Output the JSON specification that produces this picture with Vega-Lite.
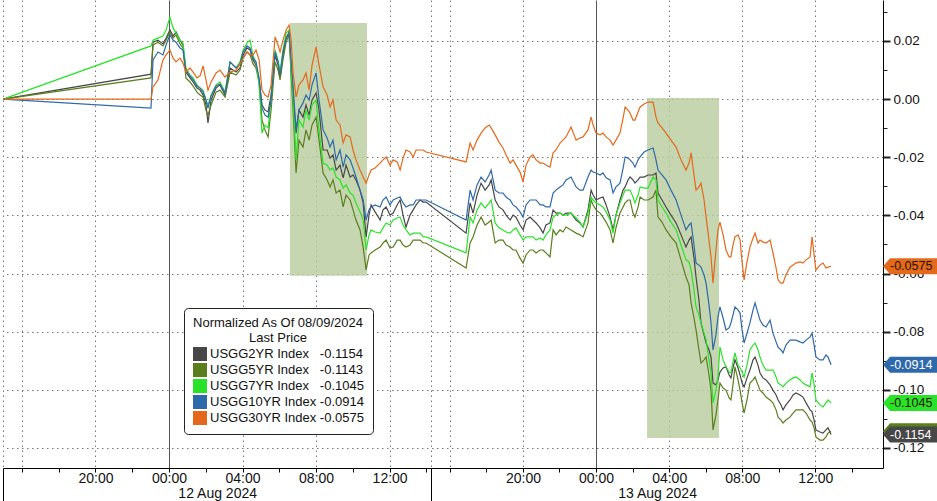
{
  "$schema": "https://vega.github.io/schema/vega-lite/v6.json",
  "description": "Normalized US Treasury yield indices (2Y, 5Y, 7Y, 10Y, 30Y), 12-13 Aug 2024, Bloomberg style.",
  "width": 880,
  "height": 468,
  "padding": 0,
  "autosize": {"type": "pad"},
  "background": "white",
  "config": {"view": {"stroke": null}, "font": "Liberation Sans"},
  "datasets": {
    "bands": [
      {"h": 6.58, "h2": 10.77, "v": 0.0262, "v2": -0.0608},
      {"h": 26.79, "h2": 30.73, "v": 0.0004, "v2": -0.1166}
    ],
    "tags": [
      {"s": "30Y", "h": 39.7, "v": -0.0575, "lab": "-0.0575"},
      {"s": "10Y", "h": 39.7, "v": -0.0914, "lab": "-0.0914"},
      {"s": "7Y", "h": 39.7, "v": -0.1045, "lab": "-0.1045"},
      {"s": "5Y", "h": 39.7, "v": -0.1143, "lab": "-0.1143"},
      {"s": "2Y", "h": 39.7, "v": -0.1154, "lab": "-0.1154"}
    ],
    "yields": [
      {"h": -9.03, "2Y": 0, "5Y": 0, "7Y": 0, "10Y": 0, "30Y": 0},
      {"h": -0.98, "2Y": 0.0086, "5Y": 0.0073, "7Y": 0.0183, "10Y": -0.0031, "30Y": 0},
      {"h": -0.87, "2Y": 0.0196, "5Y": 0.0186, "7Y": 0.0203, "10Y": 0.0135, "30Y": 0.0042},
      {"h": -0.60, "2Y": 0.0203, "5Y": 0.0196, "7Y": 0.0210, "10Y": 0.0162, "30Y": 0.0066},
      {"h": -0.33, "2Y": 0.0190, "5Y": 0.0183, "7Y": 0.0217, "10Y": 0.0152, "30Y": 0.0135},
      {"h": -0.16, "2Y": 0.0210, "5Y": 0.0203, "7Y": 0.0238, "10Y": 0.0186, "30Y": 0.0152},
      {"h": 0.05, "2Y": 0.0238, "5Y": 0.0231, "7Y": 0.0282, "10Y": 0.0221, "30Y": 0.0169},
      {"h": 0.22, "2Y": 0.0217, "5Y": 0.0210, "7Y": 0.0245, "10Y": 0.0203, "30Y": 0.0141},
      {"h": 0.38, "2Y": 0.0231, "5Y": 0.0221, "7Y": 0.0227, "10Y": 0.0196, "30Y": 0.0128},
      {"h": 0.60, "2Y": 0.0203, "5Y": 0.0190, "7Y": 0.0203, "10Y": 0.0176, "30Y": 0.0141},
      {"h": 0.76, "2Y": 0.0186, "5Y": 0.0176, "7Y": 0.0193, "10Y": 0.0169, "30Y": 0.0124},
      {"h": 0.92, "2Y": 0.0093, "5Y": 0.0073, "7Y": 0.0107, "10Y": 0.0100, "30Y": 0.0093},
      {"h": 1.14, "2Y": 0.0073, "5Y": 0.0059, "7Y": 0.0083, "10Y": 0.0080, "30Y": 0.0107},
      {"h": 1.31, "2Y": 0.0059, "5Y": 0.0045, "7Y": 0.0073, "10Y": 0.0066, "30Y": 0.0093},
      {"h": 1.52, "2Y": 0.0038, "5Y": 0.0024, "7Y": 0.0049, "10Y": 0.0045, "30Y": 0.0073},
      {"h": 1.69, "2Y": 0.0031, "5Y": 0.0014, "7Y": 0.0038, "10Y": 0.0038, "30Y": 0.0080},
      {"h": 1.85, "2Y": 0.0014, "5Y": 0.0007, "7Y": 0.0031, "10Y": 0.0024, "30Y": 0.0114},
      {"h": 2.01, "2Y": -0.0020, "5Y": -0.0038, "7Y": -0.0003, "10Y": -0.0003, "30Y": 0.0066},
      {"h": 2.12, "2Y": -0.0082, "5Y": -0.0055, "7Y": -0.0020, "10Y": -0.0031, "30Y": 0.0031},
      {"h": 2.29, "2Y": -0.0003, "5Y": -0.0020, "7Y": 0.0014, "10Y": 0.0011, "30Y": 0.0059},
      {"h": 2.56, "2Y": 0.0038, "5Y": 0.0024, "7Y": 0.0049, "10Y": 0.0045, "30Y": 0.0090},
      {"h": 2.77, "2Y": 0.0049, "5Y": 0.0031, "7Y": 0.0059, "10Y": 0.0052, "30Y": 0.0100},
      {"h": 3.05, "2Y": 0.0014, "5Y": 0.0007, "7Y": 0.0024, "10Y": 0.0021, "30Y": 0.0076},
      {"h": 3.32, "2Y": 0.0107, "5Y": 0.0093, "7Y": 0.0128, "10Y": 0.0128, "30Y": 0.0093},
      {"h": 3.65, "2Y": 0.0093, "5Y": 0.0083, "7Y": 0.0107, "10Y": 0.0107, "30Y": 0.0100},
      {"h": 3.86, "2Y": 0.0107, "5Y": 0.0100, "7Y": 0.0128, "10Y": 0.0121, "30Y": 0.0121},
      {"h": 4.03, "2Y": 0.0152, "5Y": 0.0141, "7Y": 0.0169, "10Y": 0.0162, "30Y": 0.0141},
      {"h": 4.24, "2Y": 0.0176, "5Y": 0.0162, "7Y": 0.0193, "10Y": 0.0183, "30Y": 0.0162},
      {"h": 4.41, "2Y": 0.0169, "5Y": 0.0152, "7Y": 0.0203, "10Y": 0.0176, "30Y": 0.0152},
      {"h": 4.57, "2Y": 0.0135, "5Y": 0.0121, "7Y": 0.0148, "10Y": 0.0141, "30Y": 0.0152},
      {"h": 4.73, "2Y": 0.0117, "5Y": 0.0107, "7Y": 0.0128, "10Y": 0.0128, "30Y": 0.0169},
      {"h": 4.90, "2Y": 0.0066, "5Y": 0.0059, "7Y": 0.0049, "10Y": 0.0073, "30Y": 0.0135},
      {"h": 5.06, "2Y": -0.0020, "5Y": -0.0072, "7Y": -0.0117, "10Y": -0.0031, "30Y": 0.0031},
      {"h": 5.22, "2Y": -0.0038, "5Y": -0.0106, "7Y": -0.0089, "10Y": -0.0055, "30Y": 0.0014},
      {"h": 5.39, "2Y": -0.0044, "5Y": -0.0130, "7Y": -0.0099, "10Y": -0.0062, "30Y": 0.0007},
      {"h": 5.55, "2Y": 0.0014, "5Y": -0.0038, "7Y": -0.0003, "10Y": -0.0003, "30Y": 0.0049},
      {"h": 5.77, "2Y": 0.0152, "5Y": 0.0128, "7Y": 0.0169, "10Y": 0.0162, "30Y": 0.0214},
      {"h": 5.93, "2Y": 0.0117, "5Y": 0.0100, "7Y": 0.0135, "10Y": 0.0128, "30Y": 0.0186},
      {"h": 6.04, "2Y": 0.0073, "5Y": 0.0066, "7Y": 0.0093, "10Y": 0.0083, "30Y": 0.0162},
      {"h": 6.20, "2Y": 0.0152, "5Y": 0.0135, "7Y": 0.0169, "10Y": 0.0162, "30Y": 0.0203},
      {"h": 6.37, "2Y": 0.0210, "5Y": 0.0196, "7Y": 0.0227, "10Y": 0.0210, "30Y": 0.0238},
      {"h": 6.53, "2Y": 0.0227, "5Y": 0.0221, "7Y": 0.0238, "10Y": 0.0231, "30Y": 0.0255},
      {"h": 6.64, "2Y": 0.0117, "5Y": 0.0083, "7Y": 0.0100, "10Y": 0.0135, "30Y": 0.0203},
      {"h": 6.75, "2Y": 0.0014, "5Y": -0.0038, "7Y": -0.0003, "10Y": 0.0042, "30Y": 0.0090},
      {"h": 6.91, "2Y": -0.0117, "5Y": -0.0254, "7Y": -0.0209, "10Y": -0.0106, "30Y": 0.0007},
      {"h": 7.07, "2Y": -0.0038, "5Y": -0.0141, "7Y": -0.0072, "10Y": -0.0038, "30Y": 0.0049},
      {"h": 7.29, "2Y": -0.0062, "5Y": -0.0165, "7Y": -0.0096, "10Y": -0.0013, "30Y": 0.0066},
      {"h": 7.45, "2Y": -0.0020, "5Y": -0.0106, "7Y": -0.0038, "10Y": 0.0014, "30Y": 0.0090},
      {"h": 7.62, "2Y": -0.0055, "5Y": -0.0141, "7Y": -0.0072, "10Y": -0.0003, "30Y": 0.0031},
      {"h": 7.78, "2Y": -0.0003, "5Y": -0.0089, "7Y": -0.0020, "10Y": 0.0049, "30Y": 0.0117},
      {"h": 8.00, "2Y": 0.0021, "5Y": -0.0062, "7Y": -0.0003, "10Y": 0.0090, "30Y": 0.0179},
      {"h": 8.16, "2Y": -0.0038, "5Y": -0.0141, "7Y": -0.0106, "10Y": -0.0003, "30Y": 0.0117},
      {"h": 8.38, "2Y": -0.0175, "5Y": -0.0254, "7Y": -0.0220, "10Y": -0.0106, "30Y": 0.0042},
      {"h": 8.60, "2Y": -0.0175, "5Y": -0.0278, "7Y": -0.0227, "10Y": -0.0134, "30Y": 0.0014},
      {"h": 8.76, "2Y": -0.0203, "5Y": -0.0302, "7Y": -0.0244, "10Y": -0.0165, "30Y": -0.0027},
      {"h": 8.92, "2Y": -0.0192, "5Y": -0.0278, "7Y": -0.0237, "10Y": -0.0141, "30Y": -0.0003},
      {"h": 9.09, "2Y": -0.0244, "5Y": -0.0323, "7Y": -0.0268, "10Y": -0.0209, "30Y": -0.0072},
      {"h": 9.30, "2Y": -0.0227, "5Y": -0.0313, "7Y": -0.0278, "10Y": -0.0175, "30Y": -0.0089},
      {"h": 9.47, "2Y": -0.0271, "5Y": -0.0371, "7Y": -0.0306, "10Y": -0.0234, "30Y": -0.0151},
      {"h": 9.63, "2Y": -0.0227, "5Y": -0.0330, "7Y": -0.0295, "10Y": -0.0192, "30Y": -0.0123},
      {"h": 9.85, "2Y": -0.0268, "5Y": -0.0347, "7Y": -0.0323, "10Y": -0.0209, "30Y": -0.0130},
      {"h": 10.01, "2Y": -0.0261, "5Y": -0.0381, "7Y": -0.0330, "10Y": -0.0237, "30Y": -0.0175},
      {"h": 10.17, "2Y": -0.0278, "5Y": -0.0416, "7Y": -0.0357, "10Y": -0.0268, "30Y": -0.0209},
      {"h": 10.39, "2Y": -0.0313, "5Y": -0.0450, "7Y": -0.0388, "10Y": -0.0313, "30Y": -0.0244},
      {"h": 10.56, "2Y": -0.0357, "5Y": -0.0509, "7Y": -0.0416, "10Y": -0.0347, "30Y": -0.0268},
      {"h": 10.72, "2Y": -0.0474, "5Y": -0.0588, "7Y": -0.0519, "10Y": -0.0416, "30Y": -0.0289},
      {"h": 10.88, "2Y": -0.0399, "5Y": -0.0536, "7Y": -0.0467, "10Y": -0.0381, "30Y": -0.0261},
      {"h": 10.99, "2Y": -0.0364, "5Y": -0.0529, "7Y": -0.0450, "10Y": -0.0371, "30Y": -0.0244},
      {"h": 11.21, "2Y": -0.0388, "5Y": -0.0519, "7Y": -0.0457, "10Y": -0.0364, "30Y": -0.0237},
      {"h": 11.48, "2Y": -0.0416, "5Y": -0.0509, "7Y": -0.0461, "10Y": -0.0371, "30Y": -0.0220},
      {"h": 11.64, "2Y": -0.0381, "5Y": -0.0495, "7Y": -0.0443, "10Y": -0.0347, "30Y": -0.0209},
      {"h": 11.81, "2Y": -0.0371, "5Y": -0.0485, "7Y": -0.0426, "10Y": -0.0337, "30Y": -0.0199},
      {"h": 12.02, "2Y": -0.0399, "5Y": -0.0512, "7Y": -0.0433, "10Y": -0.0364, "30Y": -0.0227},
      {"h": 12.19, "2Y": -0.0392, "5Y": -0.0509, "7Y": -0.0416, "10Y": -0.0347, "30Y": -0.0209},
      {"h": 12.41, "2Y": -0.0364, "5Y": -0.0485, "7Y": -0.0409, "10Y": -0.0340, "30Y": -0.0216},
      {"h": 12.57, "2Y": -0.0347, "5Y": -0.0485, "7Y": -0.0406, "10Y": -0.0337, "30Y": -0.0244},
      {"h": 12.73, "2Y": -0.0399, "5Y": -0.0502, "7Y": -0.0433, "10Y": -0.0357, "30Y": -0.0203},
      {"h": 12.89, "2Y": -0.0440, "5Y": -0.0509, "7Y": -0.0450, "10Y": -0.0371, "30Y": -0.0175},
      {"h": 13.11, "2Y": -0.0399, "5Y": -0.0502, "7Y": -0.0467, "10Y": -0.0364, "30Y": -0.0182},
      {"h": 13.28, "2Y": -0.0381, "5Y": -0.0485, "7Y": -0.0461, "10Y": -0.0364, "30Y": -0.0199},
      {"h": 13.44, "2Y": -0.0364, "5Y": -0.0485, "7Y": -0.0461, "10Y": -0.0347, "30Y": -0.0175},
      {"h": 13.66, "2Y": -0.0347, "5Y": -0.0485, "7Y": -0.0461, "10Y": -0.0347, "30Y": -0.0175},
      {"h": 13.82, "2Y": -0.0354, "5Y": -0.0495, "7Y": -0.0474, "10Y": -0.0347, "30Y": -0.0175},
      {"h": 13.98, "2Y": -0.0354, "5Y": -0.0495, "7Y": -0.0474, "10Y": -0.0347, "30Y": -0.0182},
      {"h": 16.89, "2Y": -0.0461, "5Y": -0.0581, "7Y": -0.0529, "10Y": -0.0416, "30Y": -0.0216},
      {"h": 17.11, "2Y": -0.0357, "5Y": -0.0495, "7Y": -0.0406, "10Y": -0.0313, "30Y": -0.0151},
      {"h": 17.27, "2Y": -0.0392, "5Y": -0.0474, "7Y": -0.0426, "10Y": -0.0347, "30Y": -0.0175},
      {"h": 17.49, "2Y": -0.0330, "5Y": -0.0433, "7Y": -0.0381, "10Y": -0.0295, "30Y": -0.0141},
      {"h": 17.71, "2Y": -0.0289, "5Y": -0.0406, "7Y": -0.0357, "10Y": -0.0268, "30Y": -0.0117},
      {"h": 17.93, "2Y": -0.0313, "5Y": -0.0433, "7Y": -0.0375, "10Y": -0.0285, "30Y": -0.0099},
      {"h": 18.15, "2Y": -0.0295, "5Y": -0.0423, "7Y": -0.0357, "10Y": -0.0261, "30Y": -0.0089},
      {"h": 18.26, "2Y": -0.0278, "5Y": -0.0416, "7Y": -0.0347, "10Y": -0.0244, "30Y": -0.0099},
      {"h": 18.48, "2Y": -0.0347, "5Y": -0.0495, "7Y": -0.0426, "10Y": -0.0313, "30Y": -0.0123},
      {"h": 18.69, "2Y": -0.0371, "5Y": -0.0485, "7Y": -0.0443, "10Y": -0.0323, "30Y": -0.0148},
      {"h": 18.91, "2Y": -0.0381, "5Y": -0.0485, "7Y": -0.0450, "10Y": -0.0323, "30Y": -0.0168},
      {"h": 19.08, "2Y": -0.0399, "5Y": -0.0502, "7Y": -0.0457, "10Y": -0.0337, "30Y": -0.0192},
      {"h": 19.30, "2Y": -0.0416, "5Y": -0.0509, "7Y": -0.0461, "10Y": -0.0347, "30Y": -0.0220},
      {"h": 19.46, "2Y": -0.0399, "5Y": -0.0519, "7Y": -0.0450, "10Y": -0.0364, "30Y": -0.0209},
      {"h": 19.62, "2Y": -0.0406, "5Y": -0.0519, "7Y": -0.0443, "10Y": -0.0371, "30Y": -0.0227},
      {"h": 19.84, "2Y": -0.0433, "5Y": -0.0547, "7Y": -0.0467, "10Y": -0.0388, "30Y": -0.0251},
      {"h": 20.01, "2Y": -0.0450, "5Y": -0.0564, "7Y": -0.0485, "10Y": -0.0406, "30Y": -0.0285},
      {"h": 20.17, "2Y": -0.0416, "5Y": -0.0536, "7Y": -0.0474, "10Y": -0.0364, "30Y": -0.0227},
      {"h": 20.39, "2Y": -0.0406, "5Y": -0.0519, "7Y": -0.0474, "10Y": -0.0347, "30Y": -0.0199},
      {"h": 20.55, "2Y": -0.0416, "5Y": -0.0519, "7Y": -0.0474, "10Y": -0.0347, "30Y": -0.0192},
      {"h": 20.72, "2Y": -0.0426, "5Y": -0.0529, "7Y": -0.0485, "10Y": -0.0347, "30Y": -0.0209},
      {"h": 20.94, "2Y": -0.0443, "5Y": -0.0519, "7Y": -0.0478, "10Y": -0.0364, "30Y": -0.0220},
      {"h": 21.10, "2Y": -0.0461, "5Y": -0.0519, "7Y": -0.0485, "10Y": -0.0364, "30Y": -0.0220},
      {"h": 21.26, "2Y": -0.0433, "5Y": -0.0529, "7Y": -0.0467, "10Y": -0.0371, "30Y": -0.0227},
      {"h": 21.48, "2Y": -0.0426, "5Y": -0.0543, "7Y": -0.0450, "10Y": -0.0371, "30Y": -0.0234},
      {"h": 21.65, "2Y": -0.0381, "5Y": -0.0450, "7Y": -0.0406, "10Y": -0.0323, "30Y": -0.0185},
      {"h": 21.81, "2Y": -0.0392, "5Y": -0.0467, "7Y": -0.0399, "10Y": -0.0313, "30Y": -0.0175},
      {"h": 22.03, "2Y": -0.0392, "5Y": -0.0450, "7Y": -0.0392, "10Y": -0.0302, "30Y": -0.0151},
      {"h": 22.19, "2Y": -0.0399, "5Y": -0.0457, "7Y": -0.0399, "10Y": -0.0295, "30Y": -0.0141},
      {"h": 22.36, "2Y": -0.0392, "5Y": -0.0440, "7Y": -0.0399, "10Y": -0.0278, "30Y": -0.0130},
      {"h": 22.63, "2Y": -0.0392, "5Y": -0.0450, "7Y": -0.0392, "10Y": -0.0268, "30Y": -0.0096},
      {"h": 22.91, "2Y": -0.0416, "5Y": -0.0461, "7Y": -0.0409, "10Y": -0.0302, "30Y": -0.0141},
      {"h": 23.12, "2Y": -0.0426, "5Y": -0.0467, "7Y": -0.0423, "10Y": -0.0313, "30Y": -0.0134},
      {"h": 23.29, "2Y": -0.0440, "5Y": -0.0474, "7Y": -0.0440, "10Y": -0.0313, "30Y": -0.0130},
      {"h": 23.56, "2Y": -0.0381, "5Y": -0.0426, "7Y": -0.0392, "10Y": -0.0268, "30Y": -0.0106},
      {"h": 23.73, "2Y": -0.0313, "5Y": -0.0347, "7Y": -0.0337, "10Y": -0.0244, "30Y": -0.0062},
      {"h": 23.84, "2Y": -0.0330, "5Y": -0.0364, "7Y": -0.0347, "10Y": -0.0251, "30Y": -0.0089},
      {"h": 24.00, "2Y": -0.0347, "5Y": -0.0381, "7Y": -0.0357, "10Y": -0.0254, "30Y": -0.0117},
      {"h": 24.22, "2Y": -0.0340, "5Y": -0.0392, "7Y": -0.0364, "10Y": -0.0261, "30Y": -0.0123},
      {"h": 24.38, "2Y": -0.0337, "5Y": -0.0406, "7Y": -0.0371, "10Y": -0.0254, "30Y": -0.0117},
      {"h": 24.55, "2Y": -0.0364, "5Y": -0.0423, "7Y": -0.0388, "10Y": -0.0271, "30Y": -0.0130},
      {"h": 24.77, "2Y": -0.0406, "5Y": -0.0450, "7Y": -0.0416, "10Y": -0.0278, "30Y": -0.0141},
      {"h": 24.93, "2Y": -0.0450, "5Y": -0.0495, "7Y": -0.0461, "10Y": -0.0323, "30Y": -0.0158},
      {"h": 25.09, "2Y": -0.0399, "5Y": -0.0443, "7Y": -0.0399, "10Y": -0.0302, "30Y": -0.0141},
      {"h": 25.31, "2Y": -0.0347, "5Y": -0.0392, "7Y": -0.0357, "10Y": -0.0289, "30Y": -0.0117},
      {"h": 25.48, "2Y": -0.0313, "5Y": -0.0371, "7Y": -0.0330, "10Y": -0.0237, "30Y": -0.0065},
      {"h": 25.59, "2Y": -0.0302, "5Y": -0.0357, "7Y": -0.0313, "10Y": -0.0199, "30Y": -0.0027},
      {"h": 25.75, "2Y": -0.0278, "5Y": -0.0347, "7Y": -0.0313, "10Y": -0.0203, "30Y": -0.0038},
      {"h": 25.86, "2Y": -0.0268, "5Y": -0.0347, "7Y": -0.0313, "10Y": -0.0209, "30Y": -0.0048},
      {"h": 26.02, "2Y": -0.0278, "5Y": -0.0392, "7Y": -0.0337, "10Y": -0.0220, "30Y": -0.0072},
      {"h": 26.13, "2Y": -0.0289, "5Y": -0.0406, "7Y": -0.0357, "10Y": -0.0234, "30Y": -0.0072},
      {"h": 26.30, "2Y": -0.0278, "5Y": -0.0371, "7Y": -0.0330, "10Y": -0.0209, "30Y": -0.0044},
      {"h": 26.41, "2Y": -0.0268, "5Y": -0.0337, "7Y": -0.0302, "10Y": -0.0199, "30Y": -0.0027},
      {"h": 26.63, "2Y": -0.0268, "5Y": -0.0347, "7Y": -0.0306, "10Y": -0.0182, "30Y": -0.0017},
      {"h": 26.84, "2Y": -0.0261, "5Y": -0.0347, "7Y": -0.0306, "10Y": -0.0175, "30Y": -0.0010},
      {"h": 27.12, "2Y": -0.0261, "5Y": -0.0337, "7Y": -0.0268, "10Y": -0.0168, "30Y": -0.0010},
      {"h": 27.28, "2Y": -0.0254, "5Y": -0.0313, "7Y": -0.0278, "10Y": -0.0209, "30Y": -0.0062},
      {"h": 27.39, "2Y": -0.0323, "5Y": -0.0406, "7Y": -0.0347, "10Y": -0.0244, "30Y": -0.0082},
      {"h": 27.61, "2Y": -0.0347, "5Y": -0.0423, "7Y": -0.0371, "10Y": -0.0261, "30Y": -0.0099},
      {"h": 27.83, "2Y": -0.0371, "5Y": -0.0450, "7Y": -0.0392, "10Y": -0.0278, "30Y": -0.0117},
      {"h": 28.10, "2Y": -0.0399, "5Y": -0.0474, "7Y": -0.0423, "10Y": -0.0313, "30Y": -0.0141},
      {"h": 28.38, "2Y": -0.0426, "5Y": -0.0495, "7Y": -0.0450, "10Y": -0.0347, "30Y": -0.0165},
      {"h": 28.65, "2Y": -0.0467, "5Y": -0.0553, "7Y": -0.0502, "10Y": -0.0399, "30Y": -0.0209},
      {"h": 28.92, "2Y": -0.0509, "5Y": -0.0612, "7Y": -0.0553, "10Y": -0.0450, "30Y": -0.0244},
      {"h": 29.09, "2Y": -0.0485, "5Y": -0.0639, "7Y": -0.0560, "10Y": -0.0433, "30Y": -0.0220},
      {"h": 29.20, "2Y": -0.0474, "5Y": -0.0701, "7Y": -0.0588, "10Y": -0.0426, "30Y": -0.0185},
      {"h": 29.36, "2Y": -0.0547, "5Y": -0.0753, "7Y": -0.0657, "10Y": -0.0502, "30Y": -0.0261},
      {"h": 29.47, "2Y": -0.0612, "5Y": -0.0794, "7Y": -0.0715, "10Y": -0.0564, "30Y": -0.0313},
      {"h": 29.63, "2Y": -0.0691, "5Y": -0.0863, "7Y": -0.0743, "10Y": -0.0571, "30Y": -0.0302},
      {"h": 29.74, "2Y": -0.0770, "5Y": -0.0908, "7Y": -0.0770, "10Y": -0.0578, "30Y": -0.0289},
      {"h": 29.91, "2Y": -0.0811, "5Y": -0.0897, "7Y": -0.0805, "10Y": -0.0605, "30Y": -0.0347},
      {"h": 30.02, "2Y": -0.0839, "5Y": -0.0887, "7Y": -0.0829, "10Y": -0.0633, "30Y": -0.0406},
      {"h": 30.18, "2Y": -0.0863, "5Y": -0.0949, "7Y": -0.0897, "10Y": -0.0708, "30Y": -0.0485},
      {"h": 30.29, "2Y": -0.0887, "5Y": -0.1001, "7Y": -0.0942, "10Y": -0.0770, "30Y": -0.0543},
      {"h": 30.40, "2Y": -0.0977, "5Y": -0.1138, "7Y": -0.1045, "10Y": -0.0863, "30Y": -0.0633},
      {"h": 30.56, "2Y": -0.0983, "5Y": -0.1087, "7Y": -0.1001, "10Y": -0.0811, "30Y": -0.0519},
      {"h": 30.67, "2Y": -0.0966, "5Y": -0.1035, "7Y": -0.0956, "10Y": -0.0750, "30Y": -0.0450},
      {"h": 30.78, "2Y": -0.0939, "5Y": -0.0977, "7Y": -0.0853, "10Y": -0.0715, "30Y": -0.0423},
      {"h": 30.95, "2Y": -0.0925, "5Y": -0.0994, "7Y": -0.0897, "10Y": -0.0753, "30Y": -0.0467},
      {"h": 31.11, "2Y": -0.0921, "5Y": -0.1001, "7Y": -0.0921, "10Y": -0.0794, "30Y": -0.0519},
      {"h": 31.28, "2Y": -0.0949, "5Y": -0.1028, "7Y": -0.0939, "10Y": -0.0787, "30Y": -0.0543},
      {"h": 31.38, "2Y": -0.0959, "5Y": -0.1035, "7Y": -0.0942, "10Y": -0.0770, "30Y": -0.0543},
      {"h": 31.49, "2Y": -0.0925, "5Y": -0.0983, "7Y": -0.0904, "10Y": -0.0743, "30Y": -0.0502},
      {"h": 31.60, "2Y": -0.0897, "5Y": -0.0921, "7Y": -0.0873, "10Y": -0.0715, "30Y": -0.0474},
      {"h": 31.77, "2Y": -0.0925, "5Y": -0.0966, "7Y": -0.0915, "10Y": -0.0725, "30Y": -0.0467},
      {"h": 31.88, "2Y": -0.0949, "5Y": -0.1001, "7Y": -0.0925, "10Y": -0.0736, "30Y": -0.0485},
      {"h": 31.99, "2Y": -0.0977, "5Y": -0.1045, "7Y": -0.0939, "10Y": -0.0794, "30Y": -0.0560},
      {"h": 32.10, "2Y": -0.0990, "5Y": -0.1080, "7Y": -0.0956, "10Y": -0.0839, "30Y": -0.0622},
      {"h": 32.26, "2Y": -0.0959, "5Y": -0.1035, "7Y": -0.0915, "10Y": -0.0805, "30Y": -0.0560},
      {"h": 32.42, "2Y": -0.0932, "5Y": -0.0977, "7Y": -0.0863, "10Y": -0.0770, "30Y": -0.0509},
      {"h": 32.59, "2Y": -0.0897, "5Y": -0.0966, "7Y": -0.0846, "10Y": -0.0725, "30Y": -0.0478},
      {"h": 32.70, "2Y": -0.0887, "5Y": -0.0956, "7Y": -0.0839, "10Y": -0.0701, "30Y": -0.0461},
      {"h": 32.86, "2Y": -0.0915, "5Y": -0.0983, "7Y": -0.0863, "10Y": -0.0736, "30Y": -0.0495},
      {"h": 32.97, "2Y": -0.0942, "5Y": -0.1001, "7Y": -0.0887, "10Y": -0.0760, "30Y": -0.0485},
      {"h": 33.13, "2Y": -0.0959, "5Y": -0.1011, "7Y": -0.0915, "10Y": -0.0777, "30Y": -0.0491},
      {"h": 33.30, "2Y": -0.0966, "5Y": -0.1025, "7Y": -0.0932, "10Y": -0.0784, "30Y": -0.0495},
      {"h": 33.52, "2Y": -0.0983, "5Y": -0.1035, "7Y": -0.0932, "10Y": -0.0760, "30Y": -0.0485},
      {"h": 33.68, "2Y": -0.1001, "5Y": -0.1045, "7Y": -0.0932, "10Y": -0.0805, "30Y": -0.0529},
      {"h": 33.85, "2Y": -0.1018, "5Y": -0.1069, "7Y": -0.0956, "10Y": -0.0835, "30Y": -0.0581},
      {"h": 33.96, "2Y": -0.1035, "5Y": -0.1094, "7Y": -0.0977, "10Y": -0.0853, "30Y": -0.0622},
      {"h": 34.12, "2Y": -0.1052, "5Y": -0.1104, "7Y": -0.0983, "10Y": -0.0863, "30Y": -0.0633},
      {"h": 34.23, "2Y": -0.1069, "5Y": -0.1114, "7Y": -0.0990, "10Y": -0.0873, "30Y": -0.0633},
      {"h": 34.39, "2Y": -0.1052, "5Y": -0.1104, "7Y": -0.0977, "10Y": -0.0846, "30Y": -0.0605},
      {"h": 34.61, "2Y": -0.1035, "5Y": -0.1094, "7Y": -0.0966, "10Y": -0.0829, "30Y": -0.0578},
      {"h": 34.78, "2Y": -0.1018, "5Y": -0.1080, "7Y": -0.0959, "10Y": -0.0829, "30Y": -0.0571},
      {"h": 34.94, "2Y": -0.1011, "5Y": -0.1069, "7Y": -0.0956, "10Y": -0.0829, "30Y": -0.0564},
      {"h": 35.16, "2Y": -0.1018, "5Y": -0.1069, "7Y": -0.0966, "10Y": -0.0835, "30Y": -0.0560},
      {"h": 35.32, "2Y": -0.1025, "5Y": -0.1069, "7Y": -0.0977, "10Y": -0.0839, "30Y": -0.0564},
      {"h": 35.49, "2Y": -0.1045, "5Y": -0.1080, "7Y": -0.0983, "10Y": -0.0829, "30Y": -0.0553},
      {"h": 35.71, "2Y": -0.1069, "5Y": -0.1104, "7Y": -0.0990, "10Y": -0.0818, "30Y": -0.0543},
      {"h": 35.82, "2Y": -0.1076, "5Y": -0.1111, "7Y": -0.0942, "10Y": -0.0805, "30Y": -0.0474},
      {"h": 35.93, "2Y": -0.1104, "5Y": -0.1131, "7Y": -0.0983, "10Y": -0.0846, "30Y": -0.0536},
      {"h": 36.03, "2Y": -0.1138, "5Y": -0.1162, "7Y": -0.1035, "10Y": -0.0887, "30Y": -0.0588},
      {"h": 36.25, "2Y": -0.1145, "5Y": -0.1173, "7Y": -0.1052, "10Y": -0.0897, "30Y": -0.0571},
      {"h": 36.42, "2Y": -0.1149, "5Y": -0.1173, "7Y": -0.1059, "10Y": -0.0897, "30Y": -0.0564},
      {"h": 36.58, "2Y": -0.1138, "5Y": -0.1162, "7Y": -0.1045, "10Y": -0.0880, "30Y": -0.0581},
      {"h": 36.69, "2Y": -0.1131, "5Y": -0.1149, "7Y": -0.1035, "10Y": -0.0887, "30Y": -0.0578},
      {"h": 36.86, "2Y": -0.1154, "5Y": -0.1143, "7Y": -0.1045, "10Y": -0.0914, "30Y": -0.0575}
    ]
  },
  "encoding": {
    "x": {
      "field": "h",
      "type": "quantitative",
      "scale": {"domain": [-9.03, 14.25, 14.97, 39.7], "range": [0, 428, 428, 880], "nice": false, "zero": false},
      "axis": {
        "title": null,
        "values": [-9.03, -8, -6, -4, -2, 0, 2, 2.62, 4, 6, 8, 10, 12, 14, 14.6, 16, 18, 20, 22, 24, 26, 27.34, 28, 30, 32, 34, 36, 38],
        "labelExpr": "datum.value == 2.62 ? '12 Aug 2024' : datum.value == 27.34 ? '13 Aug 2024' : (datum.value % 4 == 0 && datum.value != -8 && datum.value != 16) ? ((((datum.value + 24) % 24) < 10 ? '0' : '') + ((datum.value + 24) % 24) + ':00') : ''",
        "domainColor": "#000",
        "tickColor": "#000",
        "tickSize": {"condition": {"test": "datum.value == 14.6 || datum.value == -9.03", "value": 33}, "value": 4},
        "tickOpacity": {"condition": {"test": "datum.value == 2.62 || datum.value == 27.34", "value": 0}, "value": 1},
        "grid": true,
        "gridColor": {"condition": {"test": "datum.value % 24 == 0", "value": "#555"}, "value": "#777"},
        "gridDash": {"condition": {"test": "datum.value % 24 == 0", "value": []}, "value": [1.5, 3.5]},
        "gridOpacity": {"condition": {"test": "datum.value % 4 == 0 || datum.value == 14.6 || datum.value == -9.03", "value": 1}, "value": 0},
        "labelPadding": {"condition": {"test": "datum.value == 2.62 || datum.value == 27.34", "value": 14}, "value": -1},
        "labelFontSize": 14,
        "labelColor": "#111",
        "labelOverlap": false,
        "labelFlush": false,
        "labelBound": false
      }
    },
    "y": {
      "field": "v",
      "type": "quantitative",
      "scale": {"domain": [-0.1269, 0.0341], "nice": false, "zero": false},
      "axis": {
        "orient": "right",
        "title": null,
        "values": [-0.12, -0.11, -0.1, -0.09, -0.08, -0.07, -0.06, -0.05, -0.04, -0.03, -0.02, -0.01, 0, 0.01, 0.02, 0.03],
        "labelExpr": "round(datum.value * 100) % 2 == 0 ? replace(format(datum.value, '.2f'), '\u2212', '-') : ''",
        "domainColor": "#000",
        "tickColor": "#222",
        "tickSize": {"condition": {"test": "round(datum.value * 100) % 2 == 0", "value": 7}, "value": 4},
        "tickWidth": {"condition": {"test": "round(datum.value * 100) % 2 == 0", "value": 2}, "value": 1},
        "grid": true,
        "gridColor": "#777",
        "gridDash": [1.5, 3.5],
        "gridOpacity": {"condition": {"test": "round(datum.value * 100) % 2 == 0", "value": 1}, "value": 0},
        "labelPadding": 3,
        "labelFontSize": 13.5,
        "labelColor": "#111",
        "labelOverlap": false,
        "labelFlush": false
      }
    }
  },
  "layer": [
    {
      "data": {"name": "bands"},
      "mark": {"type": "rect", "color": "#b8cc9c", "opacity": 0.8},
      "encoding": {"x2": {"field": "h2"}, "y2": {"field": "v2"}}
    },
    {
      "data": {"name": "yields"},
      "transform": [{"fold": ["2Y", "5Y", "7Y", "10Y", "30Y"], "as": ["s", "v"]}],
      "mark": {"type": "line", "strokeWidth": 1.2},
      "encoding": {
        "color": {
          "field": "s",
          "type": "nominal",
          "scale": {"domain": ["30Y", "10Y", "7Y", "5Y", "2Y"], "range": ["#e4691a", "#2e69ab", "#29e329", "#5b7e1d", "#474747"]},
          "legend": null
        }
      }
    },
    {
      "data": {"name": "tags"},
      "mark": {"type": "point", "shape": "M0,0L0.7,-0.8L6,-0.8L6,0.8L0.7,0.8Z", "size": 400, "filled": true, "opacity": 1, "strokeWidth": 0},
      "encoding": {
        "fill": {
          "field": "s",
          "type": "nominal",
          "scale": {"domain": ["2Y", "5Y", "7Y", "10Y", "30Y"], "range": ["#474747", "#5b7e1d", "#29e329", "#2e69ab", "#e4691a"]},
          "legend": {
            "orient": "none",
            "legendX": 181,
            "legendY": 308,
            "title": ["Normalized As Of 08/09/2024", "Last Price"],
            "titleAnchor": "middle",
            "titleAlign": "center",
            "titleFontSize": 13,
            "titleFontWeight": "normal",
            "titleColor": "#111",
            "titleLineHeight": 15,
            "titlePadding": 2,
            "labelFontSize": 13,
            "labelColor": "#111",
            "labelOffset": 3,
            "labelLimit": 300,
            "labelExpr": "datum.label == '2Y' ? 'USGG2YR Index\u00a0\u00a0\u00a0-0.1154' : datum.label == '5Y' ? 'USGG5YR Index\u00a0\u00a0\u00a0-0.1143' : datum.label == '7Y' ? 'USGG7YR Index\u00a0\u00a0\u00a0-0.1045' : datum.label == '10Y' ? 'USGG10YR Index\u00a0-0.0914' : 'USGG30YR Index\u00a0-0.0575'",
            "symbolType": "square",
            "symbolSize": 196,
            "symbolStrokeWidth": 0,
            "rowPadding": 2,
            "padding": 9,
            "strokeColor": "#222",
            "fillColor": "#ffffff",
            "cornerRadius": 4
          }
        }
      }
    },
    {
      "data": {"name": "tags"},
      "transform": [{"filter": "datum.s != '5Y'"}],
      "mark": {"type": "text", "align": "left", "baseline": "middle", "dx": 7, "fontSize": 12.5},
      "encoding": {
        "text": {"field": "lab", "type": "nominal"},
        "color": {"condition": {"test": "datum.s == '30Y' || datum.s == '7Y'", "value": "#2a1400"}, "value": "#ffffff"}
      }
    }
  ]
}
